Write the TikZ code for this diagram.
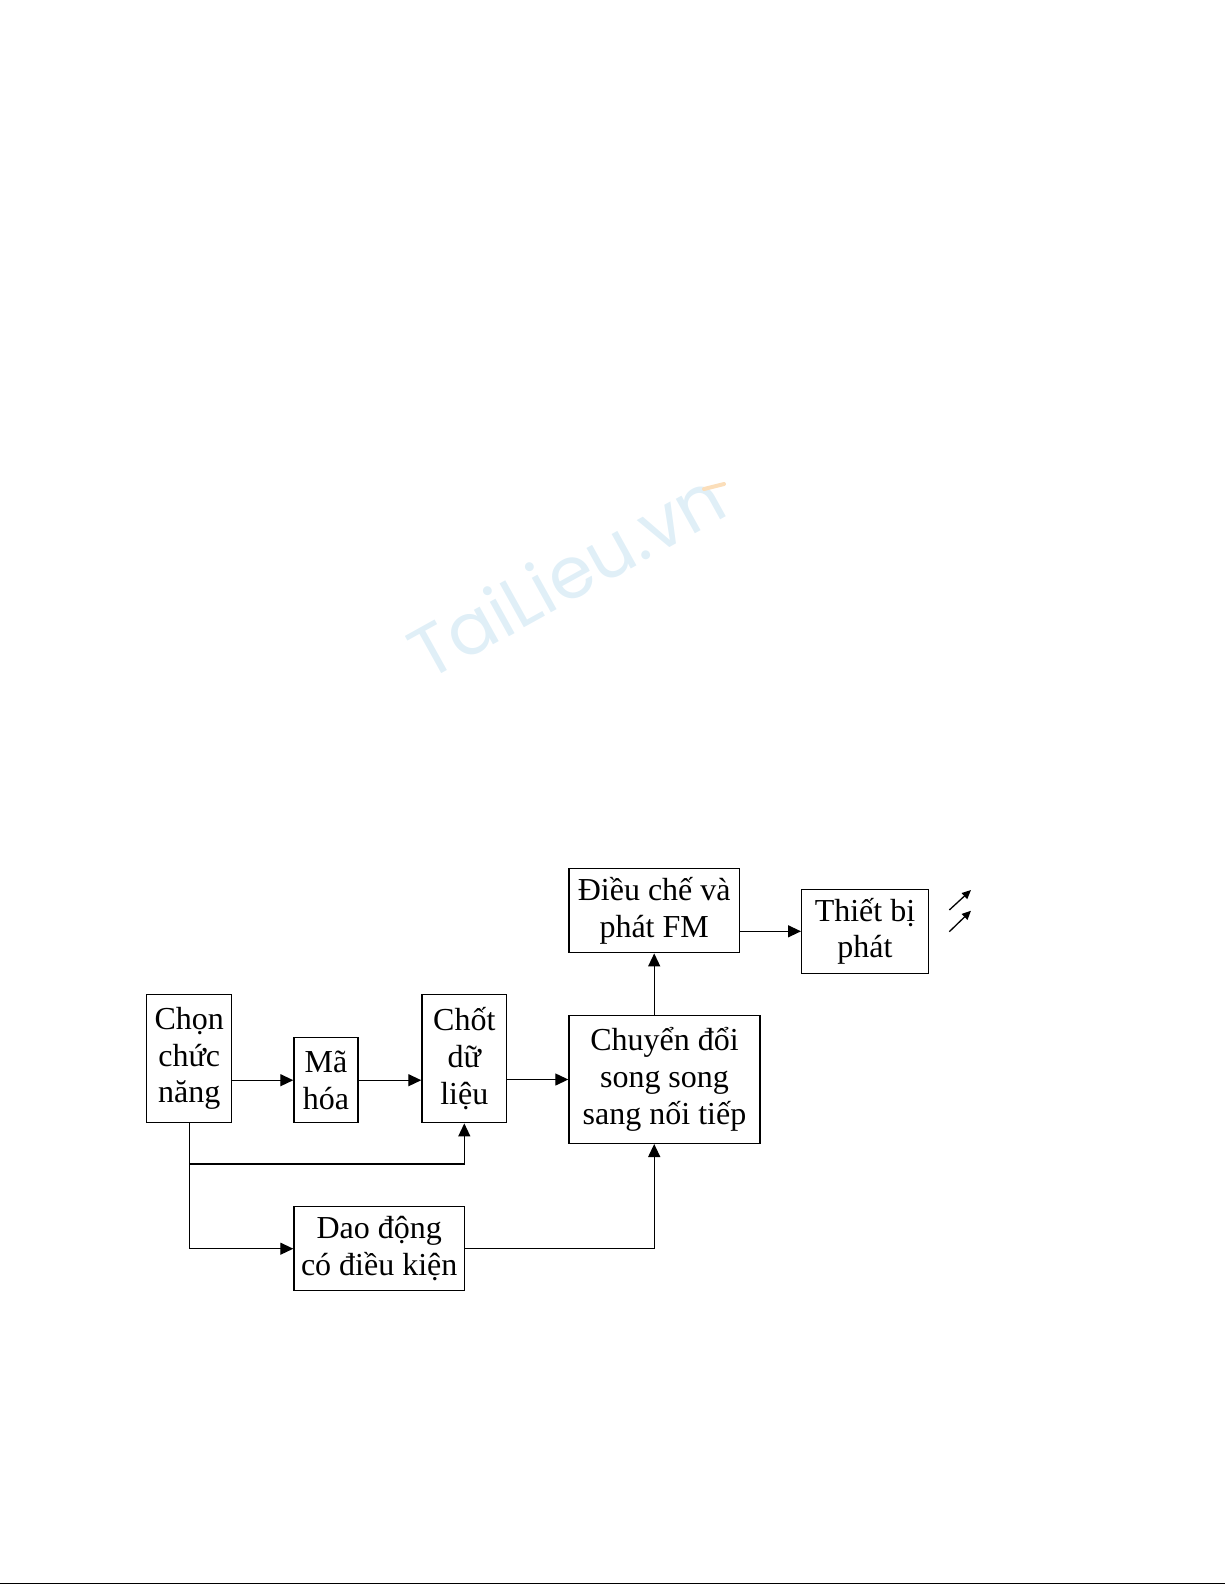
\documentclass[tikz,border=0pt]{standalone}
\usepackage{fontspec}
\setmainfont{Liberation Serif}
\newfontfamily\dauphay{Poppins}
\usepackage{xcolor}
\usetikzlibrary{arrows.meta, positioning, calc}

\definecolor{mauvet}{RGB}{224,239,247}
\definecolor{maucam}{RGB}{251,222,186}

\begin{document}
\begin{tikzpicture}[x=0.5pt, y=-0.5pt,
    khoi/.style={draw, line width=0.7pt, align=center, inner sep=0pt,
        font=\fontsize{16}{18.4}\selectfont},
    mui/.style={-{Triangle[length=6.5pt, width=6pt]}, line width=0.65pt},
    song/.style={-{Triangle[length=4.5pt, width=4pt]}, line width=0.65pt}]
\useasboundingbox (0,0) rectangle (1225,1585);

% watermark
\node[rotate=29, text=mauvet, font=\dauphay\fontsize{36}{36}\selectfont] (dau) at (566,574) {TaiLieu.vn};
\draw[maucam, line width=2pt, line cap=round] (704,489) -- (724,484);

% blocks
\node[khoi, minimum width=42.5pt, minimum height=64.2pt] (chon) at (189.2,1058.5) {Chọn\\chức\\năng};
\node[khoi, minimum width=32pt, minimum height=42.5pt] (mahoa) at (326,1080.2) {Mã\\hóa};
\node[khoi, minimum width=42.3pt, minimum height=64.2pt] (chot) at (464.3,1058.5) {Chốt\\dữ\\liệu};
\node[khoi, minimum width=95.5pt, minimum height=63.8pt] (chuyen) at (664.5,1079.5) {Chuyển đổi\\song song\\sang nối tiếp};
\node[khoi, minimum width=85.2pt, minimum height=42.2pt] (dieuche) at (654.2,910.5) {Điều chế và\\phát FM};
\node[khoi, minimum width=63.3pt, minimum height=42pt] (thietbi) at (865,931.3) {Thiết bị\\phát};
\node[khoi, minimum width=85.2pt, minimum height=42pt] (daodong) at (379.2,1248.7) {Dao động\\có điều kiện};

% connections
\draw[mui] (chon.east |- mahoa.west) -- (mahoa.west);
\draw[mui] (mahoa.east) -- (chot.west |- mahoa.east);
\draw[mui] (chot.east |- chuyen.west) -- (chuyen.west);
\draw[mui] (chuyen.north -| dieuche.south) -- (dieuche.south);
\draw[mui] (dieuche.east |- thietbi.west) -- (thietbi.west);
\coordinate (nhanh) at (189.2,1164);
\draw[mui] (chon.south) |- (daodong.west);
\draw[mui] (nhanh) -| (chot.south);
\draw[mui] (daodong.east) -| (dieuche.south |- chuyen.south);

% radio waves
\coordinate (songa1) at (949.3,910);
\coordinate (songa2) at (971,890);
\coordinate (songb1) at (949.3,931.7);
\coordinate (songb2) at (971,910.7);
\draw[song] (songa1) -- (songa2);
\draw[song] (songb1) -- (songb2);

% page edge
\draw[line width=0.7pt] (0,1583.5) -- (1225,1583.5);
\end{tikzpicture}
\end{document}
